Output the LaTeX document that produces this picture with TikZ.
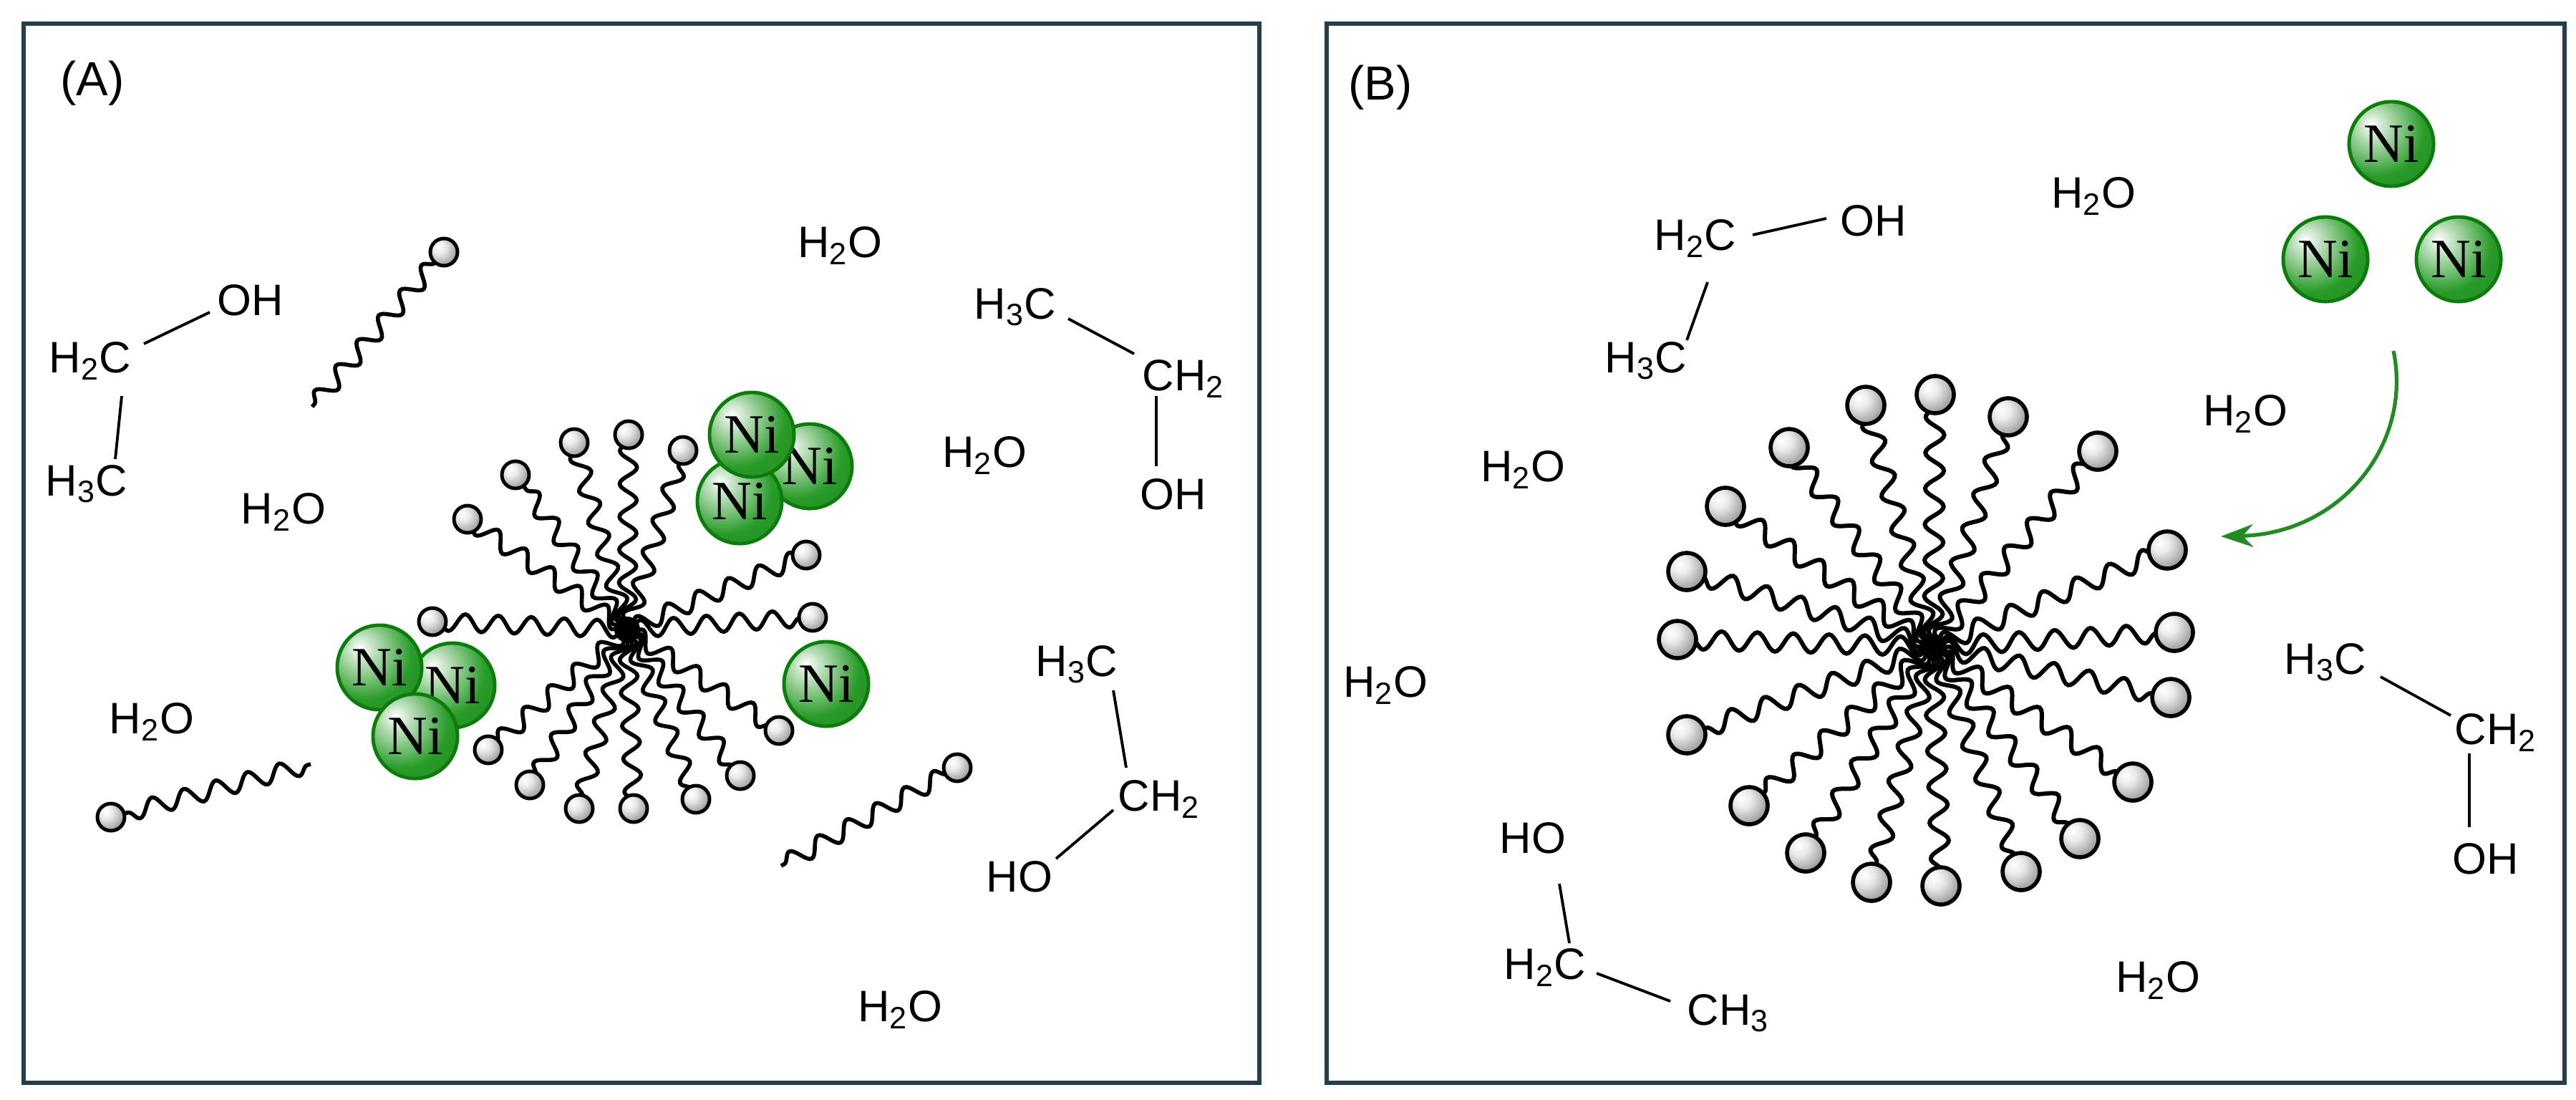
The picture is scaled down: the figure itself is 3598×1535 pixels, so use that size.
\documentclass[tikz,border=0pt]{standalone}
\usepackage{fontspec}
\setmainfont{Liberation Sans}
\newfontfamily\niserif{Liberation Serif}
\usetikzlibrary{decorations.pathmorphing,arrows.meta,calc}
\definecolor{frame}{RGB}{36,62,80}
\definecolor{nigreen}{RGB}{40,155,40}
\definecolor{nidark}{RGB}{10,125,10}
\pgfdeclareradialshading{niball}{\pgfpoint{-12bp}{12bp}}{color(0bp)=(white); color(8bp)=(nigreen!30); color(28bp)=(nigreen); color(45bp)=(nigreen!90!black); color(100bp)=(nigreen!90!black)}
\pgfdeclareradialshading{headball}{\pgfpoint{-10bp}{10bp}}{color(0bp)=(white); color(12bp)=(white!92!black); color(36bp)=(black!45); color(48bp)=(black!55); color(100bp)=(black!55)}
\begin{document}
\begin{tikzpicture}[x=0.01cm,y=-0.01cm,
  lbl/.style={font=\fontsize{17.5}{20}\selectfont,inner sep=0pt},
  panel/.style={draw=frame,line width=1.8pt},
  bond/.style={line width=1.1pt},
  tailA/.style={line width=1.6pt,decorate,decoration={snake,segment length=0.46cm,amplitude=0.12cm,pre length=0.05cm,post length=0.05cm}},
  tailB/.style={line width=1.7pt,decorate,decoration={snake,segment length=0.5cm,amplitude=0.13cm,pre length=0.05cm,post length=0.05cm}},
  headA/.style={circle,draw=black,line width=1.4pt,shading=headball,minimum size=0.38cm,inner sep=0pt},
  headB/.style={circle,draw=black,line width=1.6pt,shading=headball,minimum size=0.52cm,inner sep=0pt},
  ni/.style={circle,draw=nidark,line width=1.4pt,shading=niball,minimum size=1.18cm,inner sep=0pt,font=\niserif\fontsize{22}{24}\selectfont},
  core/.style={circle,fill=black,minimum size=0.36cm,inner sep=0pt}]
\useasboundingbox (0,0) rectangle (3598,1535);
% panels
\node[panel,minimum width=17.25cm,minimum height=14.78cm,anchor=north west] (pA) at (30,30) {};
\node[panel,minimum width=17.28cm,minimum height=14.78cm,anchor=north west] (pB) at (1850,30) {};
\node[lbl,font=\fontsize{19}{22}\selectfont] (labA) at (129,116) {(A)};
\node[lbl,font=\fontsize{19}{22}\selectfont] (labB) at (1928,122) {(B)};

% ===== Panel A =====
\node[core] (cA) at (876,879) {};
\foreach \x/\y [count=\i] in {802/618,878/607,954/629,720/663,653/725,604/868,1126/775,1135/862,1088/1020,1034/1083,972/1116,885/1129,809/1129,740/1096,682/1047}{
  \draw[tailA] (cA.center) -- (\x,\y);
  \node[headA] (hA\i) at (\x,\y) {};
}
% free surfactants
\coordinate (fa1) at (436,568); \draw[tailA] (fa1) -- (620,352); \node[headA] (fh1) at (620,352) {};
\coordinate (fa2) at (434,1067); \draw[tailA] (fa2) -- (155,1141); \node[headA] (fh2) at (155,1141) {};
\coordinate (fa3) at (1091,1209); \draw[tailA] (fa3) -- (1337,1072); \node[headA] (fh3) at (1337,1072) {};
% Ni clusters
\node[ni] (niA2) at (1131,651) {Ni};
\node[ni] (niA3) at (1033,700) {Ni};
\node[ni] (niA1) at (1050,607) {Ni};
\node[ni] (niA4) at (1154,955) {Ni};
\node[ni] (niA6) at (632,957) {Ni};
\node[ni] (niA5) at (530,932) {Ni};
\node[ni] (niA7) at (580,1028) {Ni};
% ethanols A
\node[lbl] (a1c) at (126,504) {H\textsubscript{2}C};
\node[lbl] (a1o) at (350,419) {OH};
\node[lbl] (a1m) at (121,676) {H\textsubscript{3}C};
\coordinate (a1b1) at (201,480); \coordinate (a1b2) at (293,436);
\coordinate (a1b3) at (170,553); \coordinate (a1b4) at (161,641);
\draw[bond] (a1b1) -- (a1b2); \draw[bond] (a1b3) -- (a1b4);

\node[lbl] (a2m) at (1418,429) {H\textsubscript{3}C};
\node[lbl] (a2c) at (1653,529) {CH\textsubscript{2}};
\node[lbl] (a2o) at (1639,690) {OH};
\coordinate (a2b1) at (1492,445); \coordinate (a2b2) at (1584,494);
\coordinate (a2b3) at (1615,553); \coordinate (a2b4) at (1615,651);
\draw[bond] (a2b1) -- (a2b2); \draw[bond] (a2b3) -- (a2b4);

\node[lbl] (a3m) at (1504,928) {H\textsubscript{3}C};
\node[lbl] (a3c) at (1619,1116) {CH\textsubscript{2}};
\node[lbl] (a3o) at (1424,1224) {HO};
\coordinate (a3b1) at (1555,964); \coordinate (a3b2) at (1573,1072);
\coordinate (a3b3) at (1555,1131); \coordinate (a3b4) at (1475,1199);
\draw[bond] (a3b1) -- (a3b2); \draw[bond] (a3b3) -- (a3b4);
% water A
\node[lbl] (wA1) at (396,715) {H\textsubscript{2}O};
\node[lbl] (wA2) at (1173,343) {H\textsubscript{2}O};
\node[lbl] (wA3) at (1375,636) {H\textsubscript{2}O};
\node[lbl] (wA4) at (212,1008) {H\textsubscript{2}O};
\node[lbl] (wA5) at (1257,1410) {H\textsubscript{2}O};

% ===== Panel B =====
\node[core] (cB) at (2700,903) {};
\foreach \x/\y [count=\i] in {2606/566,2703/551,2805/582,2499/625,2930/630,2410/707,3027/768,2356/798,2343/893,3037/883,3032/974,2356/1026,2979/1092,2443/1125,2905/1171,2522/1191,2823/1217,2614/1232,2711/1237}{
  \draw[tailB] (cB.center) -- (\x,\y);
  \node[headB] (hB\i) at (\x,\y) {};
}
\node[ni] (niB1) at (3340,201) {Ni};
\node[ni] (niB2) at (3248,362) {Ni};
\node[ni] (niB3) at (3434,362) {Ni};
\coordinate (arrS) at (3343,490);
\coordinate (arrE) at (3102,749);
\draw[nigreen!90!black,line width=1.5pt,-{Stealth[length=0.45cm,width=0.32cm]}] (arrS) .. controls (3370,620) and (3270,745) .. (arrE);

\node[lbl] (b1c) at (2368,333) {H\textsubscript{2}C};
\node[lbl] (b1o) at (2617,308) {OH};
\node[lbl] (b1m) at (2299,504) {H\textsubscript{3}C};
\coordinate (b1b1) at (2448,328); \coordinate (b1b2) at (2551,305);
\coordinate (b1b3) at (2385,394); \coordinate (b1b4) at (2356,475);
\draw[bond] (b1b1) -- (b1b2); \draw[bond] (b1b3) -- (b1b4);

\node[lbl] (b2m) at (3248,925) {H\textsubscript{3}C};
\node[lbl] (b2c) at (3486,1023) {CH\textsubscript{2}};
\node[lbl] (b2o) at (3472,1199) {OH};
\coordinate (b2b1) at (3325,945); \coordinate (b2b2) at (3423,999);
\coordinate (b2b3) at (3449,1052); \coordinate (b2b4) at (3449,1155);
\draw[bond] (b2b1) -- (b2b2); \draw[bond] (b2b3) -- (b2b4);

\node[lbl] (b3o) at (2141,1170) {HO};
\node[lbl] (b3c) at (2158,1351) {H\textsubscript{2}C};
\node[lbl] (b3m) at (2414,1415) {CH\textsubscript{3}};
\coordinate (b3b1) at (2178,1234); \coordinate (b3b2) at (2192,1317);
\coordinate (b3b3) at (2230,1359); \coordinate (b3b4) at (2333,1398);
\draw[bond] (b3b1) -- (b3b2); \draw[bond] (b3b3) -- (b3b4);

\node[lbl] (wB1) at (2924,274) {H\textsubscript{2}O};
\node[lbl] (wB2) at (3136,578) {H\textsubscript{2}O};
\node[lbl] (wB3) at (2127,656) {H\textsubscript{2}O};
\node[lbl] (wB4) at (1935,957) {H\textsubscript{2}O};
\node[lbl] (wB5) at (3014,1369) {H\textsubscript{2}O};
\end{tikzpicture}
\end{document}
